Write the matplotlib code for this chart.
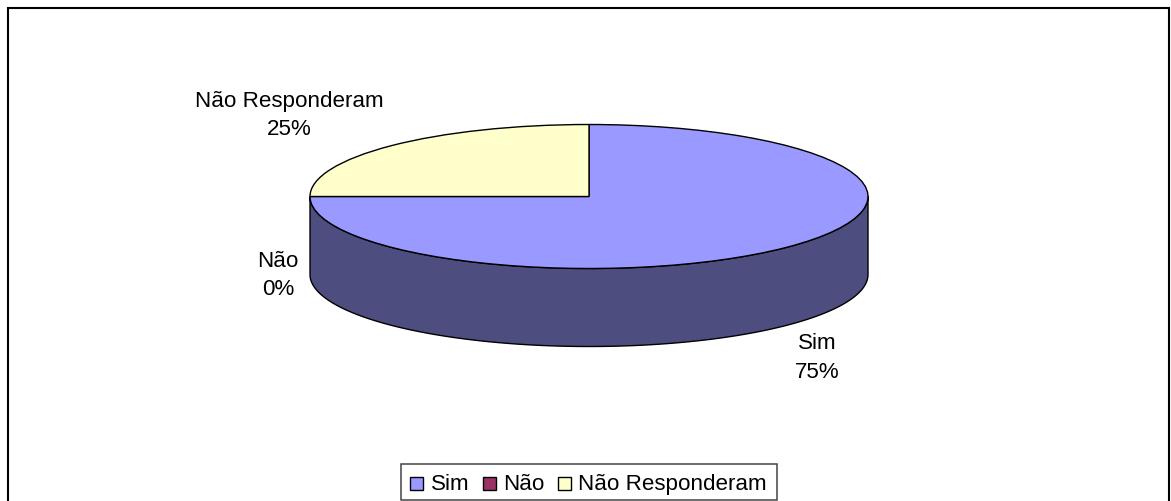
import numpy as np
import matplotlib
matplotlib.use("Agg")
import matplotlib.pyplot as plt
from matplotlib.patches import Wedge, Rectangle, Polygon
from matplotlib.transforms import Affine2D

labels = ["Sim", "Não", "Não Responderam"]
values = [75, 0, 25]
top_colors = ["#9999FF", "#993366", "#FFFFCC"]
side_colors = ["#4D4D80", "#4D1A33", "#808066"]
label_pos = [(817, 358), (278, 275.5), (289, 115.5)]

W, H = 1171, 502
cx, cy, rx, ry, depth = 589, 197.5, 279, 72, 78
FS = 16.1

plt.rcParams['font.family'] = ['Liberation Sans', 'DejaVu Sans']
fig = plt.figure(figsize=(W/100, H/100), dpi=100)
ax = fig.add_axes([0, 0, 1, 1])
ax.set_xlim(0, W)
ax.set_ylim(H, 0)
ax.axis("off")

# outer chart frame, bottom edge runs off the picture
ax.add_patch(Rectangle((8, 8.5), 1161, 510, fc="white", ec="black", lw=1.5, clip_on=True))

# slices go clockwise from 12 o'clock
shares = np.array(values) / sum(values)
ends = 90 - 360*np.cumsum(shares)
starts = np.r_[90, ends[:-1]]
flat = Affine2D().scale(rx, -ry).translate(cx, cy) + ax.transData

# side wall: only the front half of the disc shows
for a, b, c in zip(starts, ends, side_colors):
    lo, hi = b % 360, (a % 360 if a % 360 > b % 360 else a % 360 + 360)
    t = np.radians(np.linspace(lo, hi, 400))
    t = t[np.sin(t) <= 0]
    if len(t) < 2 or a == b:
        continue
    x = cx + rx*np.cos(t)
    y = cy - ry*np.sin(t)
    pts = np.r_[np.c_[x, y], np.c_[x[::-1], y[::-1] + depth]]
    ax.add_patch(Polygon(pts, closed=True, fc=c, ec="black", lw=1.0, joinstyle="round"))

for a, b, c in zip(starts, ends, top_colors):
    if a == b:
        continue
    ax.add_patch(Wedge((0, 0), 1, b, a, fc=c, ec="black", lw=1.0, transform=flat))

for name, v, (lx, ly) in zip(labels, values, label_pos):
    ax.text(lx, ly, f"{name}\n{v}%", ha="center", va="center", fontsize=FS,
            color="black", linespacing=1.48)

# legend
ax.add_patch(Rectangle((401, 464.5), 375.5, 36.5, fc="white", ec="#444444", lw=1.1))
swatch_x = [409.5, 482.5, 557.5]
text_x = [431, 503, 578]
for sx, tx, name, c in zip(swatch_x, text_x, labels, top_colors):
    ax.add_patch(Rectangle((sx, 478), 13, 13, fc=c, ec="black", lw=1.0))
    ax.text(tx, 484.5, name, ha="left", va="center", fontsize=FS, color="black")

fig.savefig("out.png", dpi=100)
